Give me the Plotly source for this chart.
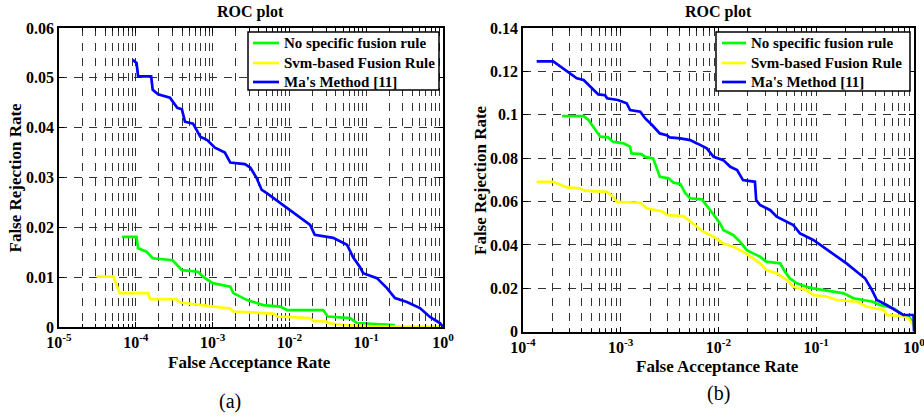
import plotly.graph_objects as go

# ---------------- data (a) ----------------
a_no_far = [6.61e-5, 1.02e-4, 1.07e-4, 1.38e-4, 1.66e-4, 3.02e-4, 3.98e-4, 6.46e-4, 7.5e-4, 1.0e-3,
            1.70e-3, 1.86e-3, 2.82e-3, 4.57e-3, 7.59e-3, 9.33e-3, 0.0275, 0.0316, 0.0617, 0.0759, 0.237]
a_no_frr = [0.0181, 0.0181, 0.0158, 0.0151, 0.0138, 0.0134, 0.0114, 0.0111, 0.0101, 0.0088,
            0.0081, 0.0068, 0.0054, 0.0044, 0.0041, 0.0034, 0.0034, 0.0021, 0.0018, 0.0008, 0.0004]

a_svm_far = [3.09e-5, 5.13e-5, 6.17e-5, 1.45e-4, 1.53e-4, 3.39e-4, 3.80e-4, 7.5e-4, 1.0e-3, 1.70e-3,
             1.86e-3, 6.17e-3, 6.92e-3, 0.0186, 0.0204, 0.0309, 0.0316, 0.0501, 0.138, 1.0]
a_svm_frr = [0.0101, 0.0101, 0.0068, 0.0068, 0.0056, 0.0056, 0.0049, 0.0044, 0.0041, 0.0037,
             0.0031, 0.0027, 0.0021, 0.0018, 0.0012, 0.0011, 0.0008, 0.0004, 0.0001, 0.0001]

a_ma_far = [9.12e-5, 1.023e-4, 1.072e-4, 1.585e-4, 1.66e-4, 1.95e-4, 2.786e-4, 3.467e-4, 3.98e-4, 4.365e-4,
            5.559e-4, 6.166e-4, 6.918e-4, 8.511e-4, 1.072e-3, 1.445e-3, 1.698e-3, 2.63e-3, 3.09e-3, 3.715e-3,
            4.365e-3, 5.13e-3, 8.32e-3, 0.01122, 0.01514, 0.01862, 0.02138, 0.03715, 0.05623, 0.06761,
            0.08318, 0.0912, 0.138, 0.1862, 0.2371, 0.3388, 0.5012, 0.6761, 0.912, 1.0]
a_ma_frr = [0.0536, 0.0530, 0.0503, 0.0503, 0.0476, 0.0467, 0.0460, 0.0440, 0.0437, 0.0412,
            0.0408, 0.0395, 0.0382, 0.0375, 0.0360, 0.0350, 0.0330, 0.0327, 0.0320, 0.0300,
            0.0275, 0.0268, 0.0245, 0.0229, 0.0215, 0.0205, 0.0185, 0.0179, 0.0165, 0.0140,
            0.0120, 0.0108, 0.0098, 0.0078, 0.0058, 0.0050, 0.0038, 0.0020, 0.0008, 0.0]

# ---------------- data (b) ----------------
b_no_far = [2.51e-4, 4.17e-4, 4.68e-4, 6.17e-4, 7.41e-4, 8.32e-4, 1.07e-3, 1.245e-3, 1.29e-3, 1.62e-3,
            1.78e-3, 2.14e-3, 2.34e-3, 2.51e-3, 3.09e-3, 3.47e-3, 4.07e-3, 4.57e-3, 5.13e-3, 6.76e-3,
            7.94e-3, 8.91e-3, 0.01035, 0.0112, 0.0141, 0.0166, 0.0195, 0.0226, 0.0266, 0.0309,
            0.0427, 0.0479, 0.0537, 0.0631, 0.0794, 0.0933, 0.1175, 0.191, 0.24, 0.38,
            0.447, 0.617, 0.776, 0.912, 1.0]
b_no_frr = [0.0994, 0.0994, 0.0976, 0.0899, 0.0896, 0.0876, 0.0868, 0.0853, 0.0822, 0.0819,
            0.0806, 0.0799, 0.0753, 0.0714, 0.0707, 0.0687, 0.0681, 0.0638, 0.0615, 0.0610,
            0.0569, 0.0538, 0.0500, 0.0469, 0.0446, 0.0415, 0.0376, 0.0361, 0.0346, 0.0323,
            0.0315, 0.0276, 0.0246, 0.0223, 0.0207, 0.0200, 0.0192, 0.0177, 0.0154, 0.0138,
            0.0123, 0.0108, 0.0077, 0.0062, 0.0030]

b_svm_far = [1.38e-4, 2.04e-4, 2.82e-4, 3.80e-4, 4.27e-4, 7.24e-4, 8.32e-4, 9.12e-4, 1.585e-3, 1.84e-3,
             2.72e-3, 2.95e-3, 4.37e-3, 5.13e-3, 6.03e-3, 7.0e-3, 8.91e-3, 0.0112, 0.0141, 0.0178,
             0.0226, 0.0266, 0.0309, 0.0394, 0.0501, 0.0582, 0.0794, 0.0933, 0.129, 0.162,
             0.26, 0.331, 0.49, 0.525, 0.776, 0.871, 0.955, 1.0]
b_svm_frr = [0.0691, 0.0691, 0.0665, 0.0661, 0.0650, 0.0645, 0.0622, 0.0599, 0.0594, 0.0569,
             0.0553, 0.0538, 0.0533, 0.0507, 0.0484, 0.0461, 0.0438, 0.0407, 0.0392, 0.0369,
             0.0338, 0.0315, 0.0284, 0.0269, 0.0238, 0.0207, 0.0192, 0.0169, 0.0161, 0.0146,
             0.0138, 0.0115, 0.0100, 0.0077, 0.0072, 0.0062, 0.0039, 0.0025]

b_ma_far = [1.38e-4, 2.04e-4, 3.55e-4, 4.17e-4, 5.89e-4, 6.92e-4, 7.24e-4, 9.33e-4, 1.15e-3, 1.245e-3,
            1.585e-3, 1.78e-3, 2.09e-3, 2.51e-3, 2.95e-3, 3.16e-3, 4.07e-3, 5.13e-3, 6.03e-3, 7.59e-3,
            8.91e-3, 0.0112, 0.0132, 0.0155, 0.0178, 0.0219, 0.0236, 0.0243, 0.0266, 0.0339,
            0.0394, 0.0582, 0.0682, 0.0933, 0.1175, 0.162, 0.204, 0.26, 0.316, 0.372,
            0.417, 0.525, 0.718, 0.776, 0.989, 1.0]
b_ma_frr = [0.1246, 0.1246, 0.1168, 0.1160, 0.1094, 0.1090, 0.1076, 0.1068, 0.1053, 0.1022,
            0.1014, 0.0983, 0.0953, 0.0914, 0.0906, 0.0896, 0.0891, 0.0883, 0.0868, 0.0845,
            0.0806, 0.0791, 0.0760, 0.0745, 0.0699, 0.0691, 0.0691, 0.0607, 0.0584, 0.0560,
            0.0530, 0.0492, 0.0453, 0.0423, 0.0392, 0.0346, 0.0315, 0.0276, 0.0246, 0.0192,
            0.0146, 0.0123, 0.0085, 0.0077, 0.0077, 0.0]

series_names = ["No specific fusion rule", "Svm-based Fusion Rule", "Ma's Method [11]"]
series_colors = ["#00FF00", "#FFFF00", "#0000FF"]

a_xticks = [1e-5, 1e-4, 1e-3, 1e-2, 1e-1, 1e0]
a_xticktext = ["10<sup>-5</sup>", "10<sup>-4</sup>", "10<sup>-3</sup>", "10<sup>-2</sup>", "10<sup>-1</sup>", "10<sup>0</sup>"]
a_yticks = [0, 0.01, 0.02, 0.03, 0.04, 0.05, 0.06]
a_yticktext = ["0", "0.01", "0.02", "0.03", "0.04", "0.05", "0.06"]
b_xticks = [1e-4, 1e-3, 1e-2, 1e-1, 1e0]
b_xticktext = ["10<sup>-4</sup>", "10<sup>-3</sup>", "10<sup>-2</sup>", "10<sup>-1</sup>", "10<sup>0</sup>"]
b_yticks = [0, 0.02, 0.04, 0.06, 0.08, 0.1, 0.12, 0.14]
b_yticktext = ["0", "0.02", "0.04", "0.06", "0.08", "0.1", "0.12", "0.14"]

W, H = 924, 420
FONT = "Liberation Serif"


def minor_vals(lo_exp, hi_exp):
    vals = []
    for e in range(lo_exp, hi_exp):
        for m in range(2, 10):
            vals.append(m * 10.0 ** e)
    return vals


def px_x(p):
    return p / W


def px_y(p):
    return 1 - p / H


fig = go.Figure()

groups = [
    ("x", "y", [a_no_far, a_svm_far, a_ma_far], [a_no_frr, a_svm_frr, a_ma_frr]),
    ("x2", "y2", [b_no_far, b_svm_far, b_ma_far], [b_no_frr, b_svm_frr, b_ma_frr]),
]
for xa, ya, xs, ys in groups:
    for name, col, xv, yv in zip(series_names, series_colors, xs, ys):
        fig.add_trace(go.Scatter(x=xv, y=yv, mode="lines", name=name, xaxis=xa, yaxis=ya,
                                 showlegend=False, line=dict(color=col, width=2.7)))

grid_dash = "8px,7px"
grid_col = "#333333"
axis_common = dict(showline=True, linecolor="black", linewidth=1.6, mirror="allticks",
                   ticks="inside", ticklen=5, tickwidth=1, tickcolor="black",
                   showgrid=True, gridcolor=grid_col, griddash=grid_dash, gridwidth=1,
                   zeroline=False, automargin=False, ticklabeloverflow="allow",
                   tickfont=dict(family=FONT, size=16, color="black", weight="bold"))

fig.update_layout(
    width=W, height=H, margin=dict(l=0, r=0, t=0, b=0),
    paper_bgcolor="white", plot_bgcolor="white", showlegend=False,
    xaxis=dict(type="log", range=[-5, 0], domain=[px_x(59), px_x(443)], anchor="y",
               tickmode="array", tickvals=a_xticks, ticktext=a_xticktext,
               minor=dict(tickmode="array", tickvals=minor_vals(-5, 0), ticks="inside", ticklen=3,
                          tickcolor="black", showgrid=True, gridcolor=grid_col, griddash=grid_dash, gridwidth=1),
               **axis_common),
    yaxis=dict(range=[0, 0.06], domain=[px_y(327), px_y(28)], anchor="x",
               tickmode="array", tickvals=a_yticks, ticktext=a_yticktext, **axis_common),
    xaxis2=dict(type="log", range=[-4, 0], domain=[px_x(523), px_x(914)], anchor="y2",
                tickmode="array", tickvals=b_xticks, ticktext=b_xticktext,
                minor=dict(tickmode="array", tickvals=minor_vals(-4, 0), ticks="inside", ticklen=3,
                           tickcolor="black", showgrid=True, gridcolor=grid_col, griddash=grid_dash, gridwidth=1),
                **axis_common),
    yaxis2=dict(range=[0, 0.14], domain=[px_y(331.7), px_y(28)], anchor="x2",
                tickmode="array", tickvals=b_yticks, ticktext=b_yticktext, **axis_common),
)

# legend boxes (one per panel), drawn as shapes + text
legend_boxes = [
    dict(x0=248, x1=439, y0=32, y1=90, lx0=253, lx1=279, tx=282, rows=[43, 63, 82]),
    dict(x0=716, x1=910, y0=32, y1=91, lx0=722, lx1=746, tx=749, rows=[43, 63, 82]),
]
for lb in legend_boxes:
    fig.add_shape(type="rect", xref="paper", yref="paper",
                  x0=px_x(lb["x0"]), x1=px_x(lb["x1"]), y0=px_y(lb["y1"]), y1=px_y(lb["y0"]),
                  fillcolor="white", line=dict(color="black", width=1.5), layer="above")
    for name, col, ry in zip(series_names, series_colors, lb["rows"]):
        fig.add_shape(type="line", xref="paper", yref="paper",
                      x0=px_x(lb["lx0"]), x1=px_x(lb["lx1"]), y0=px_y(ry), y1=px_y(ry),
                      line=dict(color=col, width=2.7), layer="above")
        fig.add_annotation(text=name, x=px_x(lb["tx"]), y=px_y(ry), xref="paper", yref="paper",
                           xanchor="left", yanchor="middle", showarrow=False,
                           font=dict(family=FONT, size=15, color="black", weight="bold"))

annos = [
    ("ROC plot", 250, 12, 0, 16, True),
    ("ROC plot", 718, 12, 0, 16, True),
    ("False Acceptance Rate", 249.5, 362.7, 0, 17, True),
    ("False Acceptance Rate", 717.5, 366.7, 0, 17, True),
    ("False Rejection Rate", 15, 177.5, -90, 17, True),
    ("False Rejection Rate", 480, 180, -90, 17, True),
    ("(a)", 230, 401, 0, 20, False),
    ("(b)", 718.5, 393, 0, 20, False),
]
for txt, x, y, ang, sz, bold in annos:
    fig.add_annotation(text=txt, x=px_x(x), y=px_y(y), xref="paper", yref="paper",
                       xanchor="center", yanchor="middle", showarrow=False, textangle=ang,
                       font=dict(family=FONT, size=sz, color="black",
                                 weight="bold" if bold else "normal"))

fig.write_html("out.html", config={"displayModeBar": False},
               post_script="document.body.style.margin='0px';")
